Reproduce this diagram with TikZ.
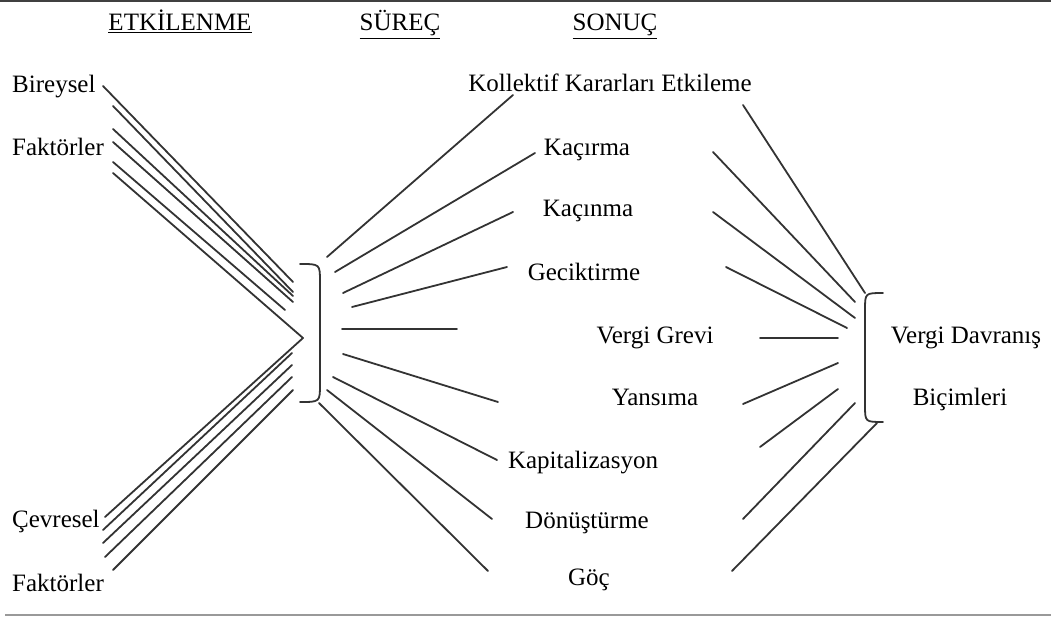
\documentclass[tikz,border=0pt]{standalone}
\usepackage{fontspec}
\setmainfont{Liberation Serif}
\begin{document}
\begin{tikzpicture}[x=1pt,y=-1pt,
  ln/.style={line width=1.8pt, draw=black!80, line cap=round},
  brc/.style={line width=1.8pt, draw=black!80, line cap=round},
  lbl/.style={inner sep=0pt, font=\rmfamily\fontsize{25}{28}\selectfont, anchor=base},
  lbll/.style={lbl, anchor=base west}]
\useasboundingbox (0,0) rectangle (1051,620);
% rules
\draw[line width=2pt, black!75] (0,1) coordinate (tl) -- (1051,1) coordinate (tr);
\draw[line width=2.5pt, black!40] (5,615) coordinate (bl) -- (1051,615) coordinate (br);
% headers
\node[lbl] (hE) at (180,31) {\underline{ETKİLENME}};
\node[lbl] (hS) at (400,31) {\underline{SÜREÇ}};
\node[lbl] (hN) at (615,31) {\underline{SONUÇ}};
% left labels
\node[lbll] (b1) at (12,93) {Bireysel};
\node[lbll] (f1) at (12,156) {Faktörler};
\node[lbll] (c1) at (12,527) {Çevresel};
\node[lbll] (f2) at (12,591) {Faktörler};
% result labels
\node[lbl] (r1) at (610,92) {Kollektif Kararları Etkileme};
\node[lbl] (r2) at (587,156) {Kaçırma};
\node[lbl] (r3) at (588,217) {Kaçınma};
\node[lbl] (r4) at (584,280) {Geciktirme};
\node[lbl] (r5) at (655,343) {Vergi Grevi};
\node[lbl] (r6) at (655,405) {Yansıma};
\node[lbl] (r7) at (583,468) {Kapitalizasyon};
\node[lbl] (r8) at (587,528) {Dönüştürme};
\node[lbl] (r9) at (589,585) {Göç};
% right label
\node[lbl] (v1) at (966,343) {Vergi Davranış};
\node[lbl] (v2) at (960,405) {Biçimleri};
% apex
\coordinate (apex) at (303,338);
% upper left lines
\draw[ln] (103,86) coordinate (ua1) -- (293,282) coordinate (ub1);
\draw[ln] (113,106) coordinate (ua2) -- (293,292) coordinate (ub2);
\draw[ln] (113,129) coordinate (ua3) -- (293,296) coordinate (ub3);
\draw[ln] (113,142) coordinate (ua4) -- (293,302) coordinate (ub4);
\draw[ln] (113,162) coordinate (ua5) -- (285,310) coordinate (ub5);
\draw[ln] (113,173) coordinate (ua6) -- (apex);
% lower left lines
\draw[ln] (105,517) coordinate (la1) -- (apex);
\draw[ln] (103,530) coordinate (la2) -- (292,353) coordinate (lb2);
\draw[ln] (103,543) coordinate (la3) -- (292,365) coordinate (lb3);
\draw[ln] (105,557) coordinate (la4) -- (292,377) coordinate (lb4);
\draw[ln] (113,570) coordinate (la5) -- (293,390) coordinate (lb5);
% left bracket
\draw[brc] (300,264) coordinate (lbt) .. controls (320,264) .. (320,282) -- (320,384) .. controls (320,402) .. (300,402) coordinate (lbb);
% middle lines
\draw[ln] (327,257) coordinate (m1a) -- (513,95) coordinate (m1b);
\draw[ln] (335,272) coordinate (m2a) -- (535,153) coordinate (m2b);
\draw[ln] (343,293) coordinate (m3a) -- (513,212) coordinate (m3b);
\draw[ln] (352,307) coordinate (m4a) -- (507,267) coordinate (m4b);
\draw[ln] (342,329) coordinate (m5a) -- (457,329) coordinate (m5b);
\draw[ln] (343,354) coordinate (m6a) -- (498,402) coordinate (m6b);
\draw[ln] (333,377) coordinate (m7a) -- (497,460) coordinate (m7b);
\draw[ln] (327,390) coordinate (m8a) -- (492,519) coordinate (m8b);
\draw[ln] (319,403) coordinate (m9a) -- (488,571) coordinate (m9b);
% right lines
\draw[ln] (743,105) coordinate (n1a) -- (865,293) coordinate (n1b);
\draw[ln] (713,152) coordinate (n2a) -- (855,302) coordinate (n2b);
\draw[ln] (713,212) coordinate (n3a) -- (855,318) coordinate (n3b);
\draw[ln] (726,267) coordinate (n4a) -- (847,328) coordinate (n4b);
\draw[ln] (760,338) coordinate (n5a) -- (838,338) coordinate (n5b);
\draw[ln] (743,404) coordinate (n6a) -- (838,363) coordinate (n6b);
\draw[ln] (760,447) coordinate (n7a) -- (838,389) coordinate (n7b);
\draw[ln] (743,519) coordinate (n8a) -- (855,403) coordinate (n8b);
\draw[ln] (732,571) coordinate (n9a) -- (877,423) coordinate (n9b);
% right bracket
\draw[brc] (883,293) coordinate (rbt) .. controls (865,293) .. (865,310) -- (865,405) .. controls (865,422) .. (883,422) coordinate (rbb);
\end{tikzpicture}
\end{document}
